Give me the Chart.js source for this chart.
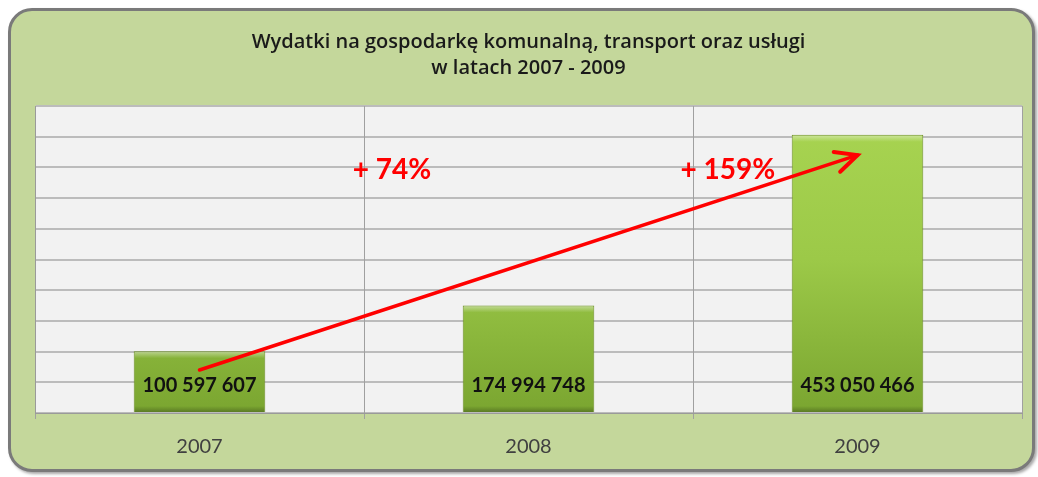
<!DOCTYPE html>
<html>
<head>
<meta charset="utf-8">
<script src="https://cdn.jsdelivr.net/npm/chart.js@4"></script>
<style>
    body { margin: 0; background: #ffffff; }
    #panel {
        position: absolute; left: 8px; top: 8px; width: 1027px; height: 464px;
        box-sizing: border-box; border: 3px solid #7a7a7a; border-radius: 24px;
        background: #c4d79b; box-shadow: 2px 2px 3px rgba(0,0,0,0.35);
    }
    #wrap { position: absolute; left: 0; top: 0; width: 1038px; height: 477px; }
</style>
</head>
<body>
<div id="panel"></div>
<div id="wrap"><canvas id="chart"></canvas></div>
<script>
// Data
const years = ["2007", "2008", "2009"];
const spending = [100597607, 174994748, 453050466];
const valueLabels = ["100 597 607", "174 994 748", "453 050 466"];
const growthLabels = ["+ 74%", "+ 159%"];

// Plot background
const plotBackground = {
    id: "plotBackground",
    beforeDraw(chart) {
        const { ctx, chartArea: a } = chart;
        ctx.save();
        ctx.fillStyle = "#f2f2f2";
        ctx.fillRect(a.left, a.top, a.right - a.left, a.bottom - a.top);
        ctx.restore();
    }
};

// Bevel on bars + values written inside, near the bottom
const barValues = {
    id: "barValues",
    afterDatasetsDraw(chart) {
        const { ctx } = chart;
        const meta = chart.getDatasetMeta(0);
        ctx.save();
        meta.data.forEach((bar) => {
            const left = bar.x - bar.width / 2;
            // light top edge
            let g = ctx.createLinearGradient(0, bar.y, 0, bar.y + 7);
            g.addColorStop(0, "rgba(255,255,255,0.45)");
            g.addColorStop(1, "rgba(255,255,255,0)");
            ctx.fillStyle = g;
            ctx.fillRect(left + 1, bar.y + 1, bar.width - 2, 7);
            // darker bottom edge
            g = ctx.createLinearGradient(0, bar.base - 6, 0, bar.base);
            g.addColorStop(0, "rgba(0,0,0,0)");
            g.addColorStop(1, "rgba(0,0,0,0.25)");
            ctx.fillStyle = g;
            ctx.fillRect(left + 1, bar.base - 6, bar.width - 2, 6);
        });
        ctx.font = "bold 20px Lato";
        ctx.fillStyle = "#111111";
        ctx.textAlign = "center";
        ctx.textBaseline = "middle";
        meta.data.forEach((bar, i) => {
            ctx.fillText(valueLabels[i], bar.x, bar.base - 26);
        });
        ctx.restore();
    }
};

// Red growth arrow and percentages
const growthArrow = {
    id: "growthArrow",
    afterDraw(chart) {
        const { ctx, scales } = chart;
        const x0 = scales.x.getPixelForValue(0), y0 = scales.y.getPixelForValue(70e6);
        const x1 = scales.x.getPixelForValue(2), y1 = scales.y.getPixelForValue(420e6);
        ctx.save();
        ctx.strokeStyle = "#ff0000";
        ctx.lineWidth = 3.5;
        ctx.lineCap = "round";
        ctx.beginPath();
        ctx.moveTo(x0, y0);
        ctx.lineTo(x1, y1);
        ctx.stroke();
        // arrow head
        const ang = Math.atan2(y1 - y0, x1 - x0);
        const len = 24;
        ctx.lineWidth = 4;
        ctx.beginPath();
        ctx.moveTo(x1 - len * Math.cos(ang - 0.45), y1 - len * Math.sin(ang - 0.45));
        ctx.lineTo(x1, y1);
        ctx.lineTo(x1 - len * Math.cos(ang + 0.45), y1 - len * Math.sin(ang + 0.45));
        ctx.stroke();

        ctx.font = "bold 28px Lato";
        ctx.fillStyle = "#ff0000";
        ctx.textAlign = "center";
        ctx.textBaseline = "middle";
        const yText = scales.y.getPixelForValue(396e6);
        ctx.fillText(growthLabels[0], scales.x.getPixelForValue(0.585), yText);
        ctx.fillText(growthLabels[1], scales.x.getPixelForValue(1.606), yText);
        ctx.restore();
    }
};

// Green bar gradient
function barGradient(context) {
    const chart = context.chart;
    const a = chart.chartArea;
    if (!a) return "#9cc84a";
    const g = chart.ctx.createLinearGradient(0, a.top, 0, a.bottom);
    g.addColorStop(0, "#a9d552");
    g.addColorStop(0.5, "#9cc948");
    g.addColorStop(1, "#7aa530");
    return g;
}

const context = document.getElementById("chart").getContext("2d");
new Chart(context, {
    type: "bar",
    data: {
        labels: years,
        datasets: [{
            data: spending,
            backgroundColor: barGradient,
            borderColor: "#6b8e23",
            borderWidth: 1,
            barPercentage: 0.4,
            categoryPercentage: 1
        }]
    },
    options: {
        responsive: true,
        maintainAspectRatio: false,
        animation: false,
        layout: { padding: { left: 35, right: 16, top: 0, bottom: 2 } },
        scales: {
            y: {
                min: 0,
                max: 500e6,
                ticks: { display: false, stepSize: 50e6 },
                grid: { color: "#bcbcbc", lineWidth: 2, drawTicks: false },
                border: { color: "#9a9a9a", width: 1 }
            },
            x: {
                grid: { color: "#a0a0a0", lineWidth: 1, tickLength: 6, offset: true },
                border: { color: "#9a9a9a", width: 1 },
                ticks: { color: "#404040", font: { family: "Lato", size: 20 }, padding: 16 }
            }
        },
        plugins: {
            legend: { display: false },
            tooltip: { enabled: false },
            title: {
                display: true,
                text: ["Wydatki na gospodarkę komunalną, transport oraz usługi", "w latach 2007 - 2009"],
                color: "#1a1a1a",
                font: { family: "Open Sans", size: 20, weight: "600", lineHeight: 1.3 },
                padding: { top: 29, bottom: 25 }
            }
        }
    },
    plugins: [plotBackground, barValues, growthArrow]
});
</script>
</body>
</html>
